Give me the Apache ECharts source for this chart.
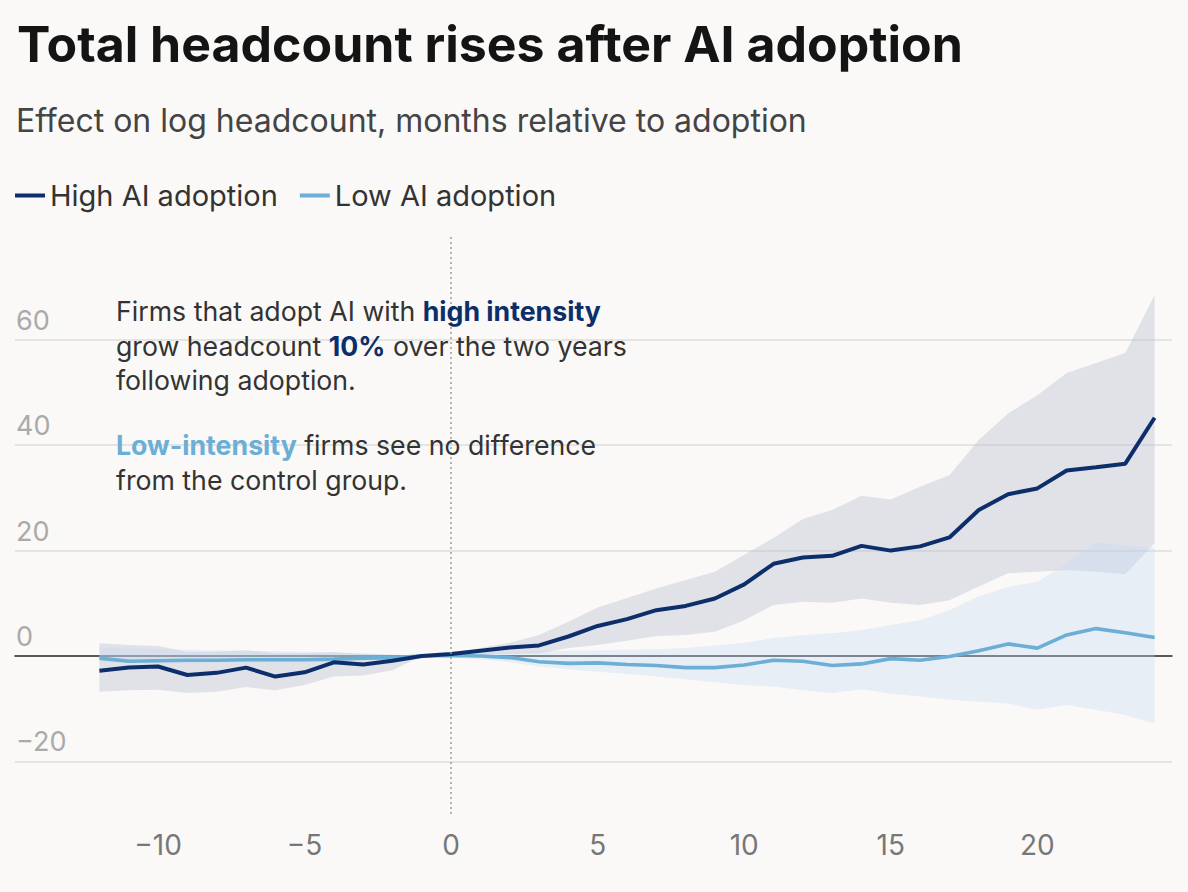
<!DOCTYPE html>
<html>
<head>
<meta charset="utf-8">
<script src="https://cdn.jsdelivr.net/npm/echarts@6/dist/echarts.min.js"></script>
<style>
  html, body { margin: 0; padding: 0; background: #faf9f7; }
  #chart { width: 1188px; height: 892px; }
</style>
</head>
<body>
<div id="chart"></div>
<script>
// ---- Data ----
const months = [-12,-11,-10,-9,-8,-7,-6,-5,-4,-3,-2,-1,0,1,2,3,4,5,6,7,8,9,10,11,12,13,14,15,16,17,18,19,20,21,22,23,24];

const highEffect = [-2.8,-2.2,-2.0,-3.6,-3.2,-2.2,-3.9,-3.1,-1.2,-1.6,-0.9,0.0,0.4,1.0,1.6,2.0,3.7,5.7,7.0,8.7,9.5,10.9,13.6,17.5,18.7,19.0,20.9,20.0,20.8,22.5,27.7,30.7,31.8,35.2,35.8,36.5,45.2];
const highUpper  = [2.4,2.1,1.9,0.8,0.8,1.1,0.5,0.5,0.7,0.4,0.2,0.0,0.6,1.5,2.5,4.0,6.5,9.2,11.0,12.8,14.4,16.0,19.2,22.4,26.0,27.7,30.4,29.7,32.1,34.3,41.0,46.0,49.5,53.7,55.6,57.5,68.5];
const highLower  = [-6.8,-6.5,-6.4,-7.0,-6.8,-5.9,-6.5,-5.5,-3.9,-3.7,-2.7,0.0,-0.2,0.2,0.4,0.5,1.5,2.1,2.9,3.8,4.0,4.6,6.8,9.7,10.3,10.1,10.9,10.1,9.7,10.6,13.2,15.7,16.0,16.3,16.0,15.5,21.4];

const lowEffect = [-0.4,-1.0,-0.9,-0.8,-0.8,-0.7,-0.7,-0.7,-0.6,-0.4,-0.3,0.0,0.1,0.0,-0.3,-1.1,-1.4,-1.3,-1.6,-1.8,-2.2,-2.2,-1.7,-0.8,-1.0,-1.8,-1.5,-0.5,-0.8,-0.1,1.0,2.3,1.5,4.0,5.2,4.4,3.5];
const lowUpper  = [1.6,1.4,1.3,1.2,1.1,1.0,0.9,0.8,0.7,0.5,0.3,0.0,0.4,0.7,0.8,1.0,1.0,1.1,1.2,1.3,1.5,2.0,2.5,3.4,4.0,4.3,4.9,5.9,6.8,8.7,11.3,13.1,14.1,17.5,21.5,21.0,20.5];
const lowLower  = [-1.1,-1.3,-1.4,-1.4,-1.3,-1.3,-1.2,-1.1,-1.0,-0.8,-0.5,0.0,-0.3,-0.6,-1.2,-2.0,-2.5,-3.0,-3.4,-3.9,-4.4,-5.0,-5.5,-5.8,-6.5,-7.0,-6.3,-7.1,-7.7,-8.3,-8.7,-9.0,-10.2,-9.3,-10.2,-11.2,-12.8];

const xTicks = [-10,-5,0,5,10,15,20];
const yTicks = [-20,0,20,40,60];

const seriesNames = ['High AI adoption', 'Low AI adoption'];
const titleText = 'Total headcount rises after AI adoption';
const subtitleText = 'Effect on log headcount, months relative to adoption';

// ---- Helpers ----
const diffs = (up, lo) => up.map((u, i) => +(u - lo[i]).toFixed(3));
const minus = (v) => (v < 0 ? '\u2212' + Math.abs(v) : String(v));

const FONT = 'Inter, "Noto Sans", sans-serif';
const NAVY = '#0c2f6b';
const LIGHT = '#6baed6';

// pixel geometry: value 0 at y=656, 5.27 px per unit
const K = 5.27, Y0 = 656;

const chart = echarts.init(document.getElementById('chart'), null, { renderer: 'svg' });

const richN = { fontFamily: FONT, fontSize: 26.7, lineHeight: 34.5, color: '#333333', fontWeight: 400 };

chart.setOption({
  backgroundColor: '#faf9f7',
  animation: false,
  textStyle: { fontFamily: FONT },
  title: [
    { text: titleText, left: 12, top: 14,
      textStyle: { fontFamily: FONT, fontSize: 50, fontWeight: 700, color: '#141414' } },
    { text: subtitleText, left: 11, top: 99,
      textStyle: { fontFamily: FONT, fontSize: 32, fontWeight: 400, color: '#444444' } },
    { text: '{n|Firms that adopt AI with }{h|high intensity}\n{n|grow headcount }{h|10%}{n| over the two years}\n{n|following adoption.}',
      left: 111, top: 289,
      textStyle: { fontFamily: FONT, fontSize: 26.7, lineHeight: 34.5, color: '#333', fontWeight: 400,
        rich: {
          n: richN,
          h: Object.assign({}, richN, { color: NAVY, fontWeight: 700 })
        } } },
    { text: '{l|Low-intensity}{n| firms see no difference}\n{n|from the control group.}',
      left: 111, top: 423,
      textStyle: { fontFamily: FONT, fontSize: 26.7, lineHeight: 34.5, color: '#333', fontWeight: 400,
        rich: {
          n: richN,
          l: Object.assign({}, richN, { color: LIGHT, fontWeight: 700 })
        } } }
  ],
  legend: {
    data: seriesNames,
    left: 10, top: 176,
    icon: 'rect', itemWidth: 30, itemHeight: 4, itemGap: 22,
    textStyle: { fontFamily: FONT, fontSize: 29, color: '#333333' }
  },
  grid: [
    { left: 99.4, right: 1188 - 1154.6, top: Y0 - 80 * K, bottom: 892 - (Y0 + 30 * K) },
    { left: 15, right: 16, top: Y0 - 60 * K, bottom: 892 - (Y0 + 20 * K) }
  ],
  xAxis: [
    { type: 'category', gridIndex: 0, data: months.map(String), boundaryGap: false,
      axisLine: { show: false }, axisTick: { show: false }, splitLine: { show: false },
      axisLabel: { margin: 17, fontFamily: FONT, fontSize: 28, color: '#777777',
        interval: (idx, val) => xTicks.indexOf(Number(val)) >= 0,
        formatter: (v) => minus(Number(v)) } },
    { type: 'value', gridIndex: 1, min: 0, max: 1,
      axisLine: { show: true, onZero: true, lineStyle: { color: '#2a2a2a', width: 1.5 } },
      axisTick: { show: false }, axisLabel: { show: false }, splitLine: { show: false } }
  ],
  yAxis: [
    { type: 'value', gridIndex: 0, min: -30, max: 80,
      axisLine: { show: false }, axisTick: { show: false }, axisLabel: { show: false }, splitLine: { show: false } },
    { type: 'value', gridIndex: 1, min: yTicks[0], max: yTicks[yTicks.length - 1], interval: 20,
      axisLine: { show: false }, axisTick: { show: false },
      splitLine: { show: true, lineStyle: { color: '#dcdcdc', width: 1.5 } },
      axisLabel: { inside: true, margin: 1, verticalAlign: 'bottom', padding: [0, 0, 6, 0],
        fontFamily: FONT, fontSize: 27, color: '#aaaaaa',
        formatter: (v) => minus(v) } }
  ],
  series: [
    // high-intensity confidence band
    { name: 'hiBase', type: 'line', xAxisIndex: 0, yAxisIndex: 0, stack: 'hi', stackStrategy: 'all',
      data: highLower, symbol: 'none', lineStyle: { opacity: 0 }, silent: true, z: 1 },
    { name: 'hiBand', type: 'line', xAxisIndex: 0, yAxisIndex: 0, stack: 'hi', stackStrategy: 'all',
      data: diffs(highUpper, highLower), symbol: 'none', lineStyle: { opacity: 0 },
      areaStyle: { color: 'rgba(180,186,204,0.36)', opacity: 1 }, silent: true, z: 1 },
    // low-intensity confidence band
    { name: 'loBase', type: 'line', xAxisIndex: 0, yAxisIndex: 0, stack: 'lo', stackStrategy: 'all',
      data: lowLower, symbol: 'none', lineStyle: { opacity: 0 }, silent: true, z: 1 },
    { name: 'loBand', type: 'line', xAxisIndex: 0, yAxisIndex: 0, stack: 'lo', stackStrategy: 'all',
      data: diffs(lowUpper, lowLower), symbol: 'none', lineStyle: { opacity: 0 },
      areaStyle: { color: 'rgba(195,218,242,0.34)', opacity: 1 }, silent: true, z: 1 },
    // lines
    { name: seriesNames[1], type: 'line', xAxisIndex: 0, yAxisIndex: 0,
      data: lowEffect, symbol: 'none', color: LIGHT,
      lineStyle: { color: LIGHT, width: 3.6 }, z: 3 },
    { name: seriesNames[0], type: 'line', xAxisIndex: 0, yAxisIndex: 0,
      data: highEffect, symbol: 'none', color: NAVY,
      lineStyle: { color: NAVY, width: 4 }, z: 4,
      markLine: { silent: true, symbol: 'none', label: { show: false },
        lineStyle: { color: '#9a9a9a', type: [2, 3], width: 1.5 },
        data: [{ xAxis: '0' }] } }
  ]
});
</script>
</body>
</html>
